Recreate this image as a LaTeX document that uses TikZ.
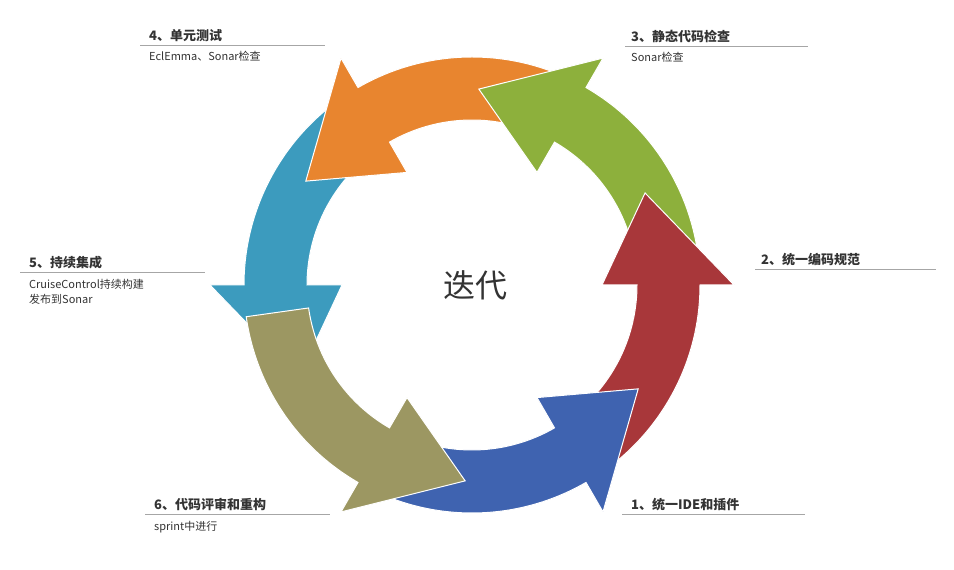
\documentclass[tikz,border=0pt]{standalone}
\usepackage{fontspec}
\newfontfamily\cjk{Noto Sans CJK SC}
\definecolor{cdblue}{HTML}{3F63B0}
\definecolor{cred}{HTML}{A8373A}
\definecolor{cgreen}{HTML}{8DB03C}
\definecolor{corange}{HTML}{E8852F}
\definecolor{cteal}{HTML}{3C9BBE}
\definecolor{colive}{HTML}{9C9762}
\definecolor{ctext}{HTML}{333333}
\newcommand{\cyclearrow}[2]{% head angle, colour
  \pgfmathsetmacro{\st}{#1-80}\pgfmathsetmacro{\hb}{#1-28}
  \fill[#2,draw=white,line width=1pt] (\st:228) arc[start angle=\st,end angle=\hb,radius=228]
    -- (\hb:262) -- (#1:196) -- (\hb:130) -- (\hb:165)
    arc[start angle=\hb,end angle=\st,radius=165] -- cycle;}
\newcommand{\cyclehead}[2]{%
  \pgfmathsetmacro{\hb}{#1-28}\pgfmathsetmacro{\hc}{#1-40}
  \fill[#2,draw=white,line width=1pt] (\hc:228) arc[start angle=\hc,end angle=\hb,radius=228]
    -- (\hb:262) -- (#1:196) -- (\hb:130) -- (\hb:165)
    arc[start angle=\hb,end angle=\hc,radius=165];}
\begin{document}
\begin{tikzpicture}[x=1pt,y=1pt,
  title/.style={anchor=south west,inner sep=1pt,text=ctext,font=\cjk\fontsize{13}{15}\selectfont\bfseries},
  sub/.style={anchor=north west,inner sep=1pt,text=ctext,font=\cjk\fontsize{11}{15}\selectfont,align=left},
  rule/.style={draw=gray!70,line width=1pt}]
\useasboundingbox (0,0) rectangle (954,570);
% ring of arrows
\begin{scope}[shift={(472,285)}]
  \cyclearrow{-32}{cdblue}
  \cyclearrow{28}{cred}
  \cyclearrow{88}{cgreen}
  \cyclearrow{148}{corange}
  \cyclearrow{208}{cteal}
  \cyclearrow{268}{colive}
  \cyclehead{-32}{cdblue}
  \cyclehead{28}{cred}
  \cyclehead{88}{cgreen}
  \cyclehead{148}{corange}
\end{scope}
\node[font=\cjk\fontsize{32}{38}\selectfont,text=ctext] (center) at (475,285) {迭代};
% labels
\coordinate (r4a) at (140,524); \coordinate (r4b) at (325,524);
\draw[rule] (r4a) -- (r4b);
\node[title] (t4) at (148,527) {4、单元测试};
\node[sub] (s4) at (148,520) {EclEmma、Sonar检查};
\coordinate (r3a) at (625,523); \coordinate (r3b) at (808,523);
\draw[rule] (r3a) -- (r3b);
\node[title] (t3) at (630,526) {3、静态代码检查};
\node[sub] (s3) at (630,519) {Sonar检查};
\coordinate (r2a) at (755,300); \coordinate (r2b) at (936,300);
\draw[rule] (r2a) -- (r2b);
\node[title] (t2) at (760,303) {2、统一编码规范};
\coordinate (r5a) at (20,297); \coordinate (r5b) at (205,297);
\draw[rule] (r5a) -- (r5b);
\node[title] (t5) at (28,300) {5、持续集成};
\node[sub] (s5) at (28,292) {CruiseControl持续构建\\发布到Sonar};
\coordinate (r6a) at (145,55); \coordinate (r6b) at (330,55);
\draw[rule] (r6a) -- (r6b);
\node[title] (t6) at (153,58) {6、代码评审和重构};
\node[sub] (s6) at (153,50) {sprint中进行};
\coordinate (r1a) at (622,55); \coordinate (r1b) at (805,55);
\draw[rule] (r1a) -- (r1b);
\node[title] (t1) at (630,58) {1、统一IDE和插件};
\end{tikzpicture}
\end{document}
